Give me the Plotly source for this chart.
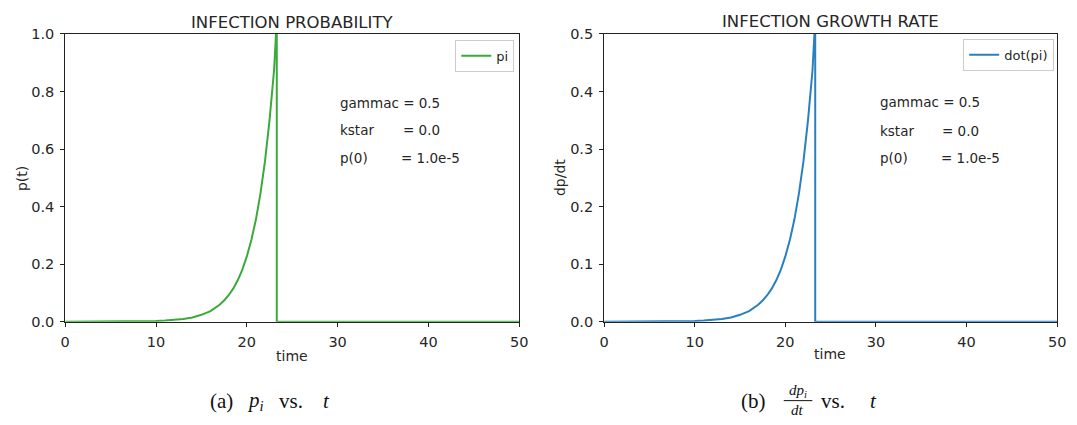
import plotly.graph_objects as go

# ---- data ----
time_pts = [0, 2, 4, 6, 8, 10, 11, 12, 13, 14, 15, 16, 17, 17.5, 18, 18.5, 19, 19.5,
            20, 20.5, 21, 21.5, 22, 22.5, 23, 23.3, 23.3, 50]
p_vals = [0.00003, 0.00007, 0.00017, 0.0004, 0.001, 0.0025, 0.004, 0.0062, 0.0097, 0.015,
          0.024, 0.037, 0.059, 0.074, 0.092, 0.115, 0.144, 0.18, 0.227, 0.284, 0.355,
          0.445, 0.557, 0.70, 0.874, 1.05, 0.0, 0.0]
dp_vals = [0.000015, 0.000035, 0.000085, 0.0002, 0.0005, 0.00125, 0.002, 0.0031, 0.00485,
           0.0075, 0.012, 0.0185, 0.0295, 0.037, 0.046, 0.0575, 0.072, 0.09, 0.1135, 0.142,
           0.1775, 0.2225, 0.2785, 0.35, 0.437, 0.525, 0.0, 0.0]

x_ticks = [0, 10, 20, 30, 40, 50]
p_ticks = [0.0, 0.2, 0.4, 0.6, 0.8, 1.0]
dp_ticks = [0.0, 0.1, 0.2, 0.3, 0.4, 0.5]
param_labels = ["gammac = 0.5", "kstar", "p(0)"]
param_values = ["", "= 0.0", "= 1.0e-5"]
p_param_y = [0.76, 0.665, 0.57]
dp_param_y = [0.381, 0.332, 0.284]
p_value_x = [36.6, 37.0, 36.8]
dp_value_x = [36.7, 37.1, 37.0]

W, H = 1077, 425
GREEN = "#3aaa3a"
BLUE = "#2a7fbf"
FONT = "DejaVu Sans"
TXT = "#262626"
FS = 14

fig = go.Figure()
fig.add_trace(go.Scatter(x=time_pts, y=p_vals, mode="lines", name="pi",
                         line=dict(color=GREEN, width=2), xaxis="x", yaxis="y",
                         legend="legend"))
fig.add_trace(go.Scatter(x=time_pts, y=dp_vals, mode="lines", name="dot(pi)",
                         line=dict(color=BLUE, width=2), xaxis="x2", yaxis="y2",
                         legend="legend2"))

def px_x(v):
    return v / W

def px_y(v):
    return 1 - v / H

axis_common = dict(showline=True, linecolor="#222", linewidth=1, mirror=True,
                   ticks="outside", ticklen=4, tickcolor="#222", showgrid=False,
                   zeroline=False, ticklabelstandoff=3,
                   tickfont=dict(family=FONT, size=14.5, color=TXT))

ydom = [px_y(326), px_y(27)]
fig.update_layout(
    width=W, height=H, margin=dict(l=0, r=0, t=0, b=0),
    paper_bgcolor="white", plot_bgcolor="white",
    font=dict(family=FONT, size=FS, color=TXT),
    xaxis=dict(domain=[px_x(61), px_x(521)], range=[0, 50], tickvals=x_ticks,
               anchor="y", **axis_common),
    yaxis=dict(domain=ydom, range=[0, 1], tickvals=p_ticks, tickformat=".1f",
               anchor="x", **axis_common),
    xaxis2=dict(domain=[px_x(607), px_x(1066)], range=[0, 50], tickvals=x_ticks,
                anchor="y2", **axis_common),
    yaxis2=dict(domain=ydom, range=[0, 0.5], tickvals=dp_ticks, tickformat=".1f",
                anchor="x2", **axis_common),
    legend=dict(x=px_x(516), y=px_y(33), xanchor="right", yanchor="top",
                bgcolor="white", bordercolor="#cccccc", borderwidth=1,
                font=dict(family=FONT, size=13, color=TXT)),
    legend2=dict(x=px_x(1063), y=px_y(32), xanchor="right", yanchor="top",
                 bgcolor="white", bordercolor="#cccccc", borderwidth=1,
                 font=dict(family=FONT, size=13, color=TXT)),
    showlegend=True,
)

ann = []

def paper_text(text, x, y, size=FS, family=FONT, color=TXT, angle=0):
    ann.append(dict(text=text, x=px_x(x), y=px_y(y), xref="paper", yref="paper",
                    xanchor="center", yanchor="middle", showarrow=False,
                    textangle=angle, font=dict(family=family, size=size, color=color)))

# titles
paper_text("INFECTION PROBABILITY", 291, 15, size=16.5)
paper_text("INFECTION GROWTH RATE", 836, 14, size=16.5)
# axis titles
paper_text("time", 291, 362)
paper_text("time", 836, 360)
paper_text("p(t)", 18, 177, angle=-90)
paper_text("dp/dt", 563, 176, angle=-90)
# parameter text
for lab, val, yv, vx in zip(param_labels, param_values, p_param_y, p_value_x):
    ann.append(dict(text=lab, x=30, y=yv, xref="x", yref="y", xanchor="left",
                    yanchor="middle", showarrow=False, font=dict(size=13.5)))
    if val:
        ann.append(dict(text=val, x=vx, y=yv, xref="x", yref="y", xanchor="left",
                        yanchor="middle", showarrow=False, font=dict(size=13.5)))
for lab, val, yv, vx in zip(param_labels, param_values, dp_param_y, dp_value_x):
    ann.append(dict(text=lab, x=30.2, y=yv, xref="x2", yref="y2", xanchor="left",
                    yanchor="middle", showarrow=False, font=dict(size=13.5)))
    if val:
        ann.append(dict(text=val, x=vx, y=yv, xref="x2", yref="y2", xanchor="left",
                        yanchor="middle", showarrow=False, font=dict(size=13.5)))
# captions
SERIF = "Liberation Serif"
CAP = "#111"
paper_text("(a)", 219, 408, size=21, family=SERIF, color=CAP)
paper_text("<i>p<sub>i</sub></i>", 254, 408, size=21, family=SERIF, color=CAP)
paper_text("vs.", 290, 408, size=21, family=SERIF, color=CAP)
paper_text("<i>t</i>", 326, 408, size=21, family=SERIF, color=CAP)
paper_text("(b)", 758, 408, size=21, family=SERIF, color=CAP)
paper_text("<i>dp<sub>i</sub></i>", 803, 398, size=15, family=SERIF, color=CAP)
paper_text("<i>dt</i>", 803, 418, size=15, family=SERIF, color=CAP)
paper_text("vs.", 839, 408, size=21, family=SERIF, color=CAP)
paper_text("<i>t</i>", 880, 408, size=21, family=SERIF, color=CAP)
fig.update_layout(annotations=ann)

fig.add_shape(type="line", xref="paper", yref="paper", x0=px_x(789), x1=px_x(818),
              y0=px_y(408), y1=px_y(408), line=dict(color=CAP, width=1))

fig.write_html("out.html")
